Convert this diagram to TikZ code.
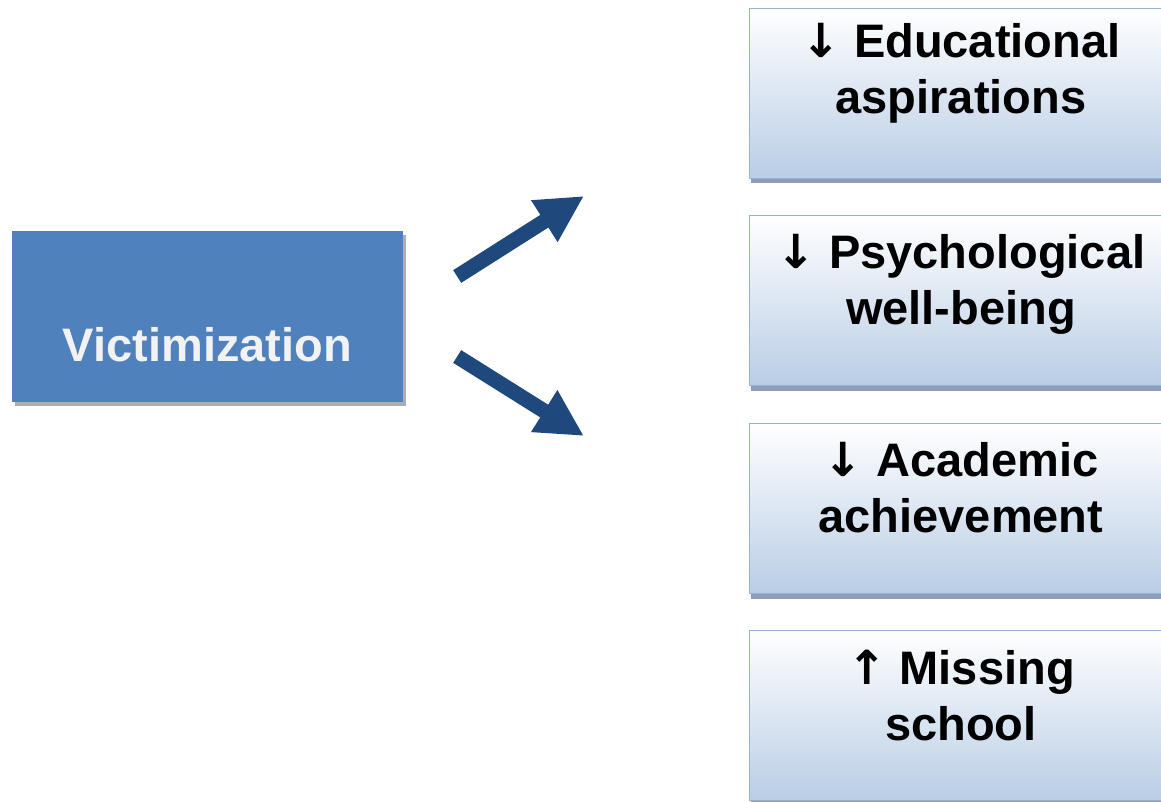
\documentclass[tikz,border=0pt]{standalone}
\usepackage{fontspec}
\setmainfont{Liberation Sans}
\newfontfamily\arrowfont{DejaVu Sans}
\usetikzlibrary{arrows.meta,shadows}

\definecolor{victimblue}{RGB}{79,129,189}
\definecolor{arrowblue}{RGB}{31,73,125}
\definecolor{outcomeedge}{RGB}{149,179,215}
\definecolor{outcomebottom}{RGB}{185,205,229}
\definecolor{outcomeshadow}{RGB}{140,157,181}

\newcommand{\less}{{\arrowfont ↓}}
\newcommand{\more}{{\arrowfont ↑}}

\begin{document}
\begin{tikzpicture}[x=1pt,y=-1pt]
	\tikzstyle{cause}=[rectangle,fill=victimblue,inner sep=0pt,minimum width=391pt,minimum height=171pt,
		drop shadow={shadow xshift=3pt,shadow yshift=-4pt,fill=black!45,opacity=0.7}]
	\tikzstyle{outcome}=[rectangle,draw=outcomeedge,line width=1pt,inner sep=0pt,minimum width=424pt,minimum height=170pt,
		top color=white,bottom color=outcomebottom,
		drop shadow={shadow xshift=2pt,shadow yshift=-5pt,fill=outcomeshadow,opacity=1}]
	\tikzstyle{boxtext}=[inner sep=0pt,align=center,font=\fontsize{47}{56}\selectfont\bfseries]
	\tikzstyle{effect}=[draw=arrowblue,fill=arrowblue,line width=15pt,-{Triangle[width=46pt,length=47pt]}]

	\useasboundingbox (0,0) rectangle (1161,801);

	\begin{scope}

		% the cause on the left
		\node [cause] (vic) at (207.5,316.5) {};
		\node [boxtext,text=black!5,anchor=base] (victxt) at ([yshift=-45pt]vic.center) {Victimization};

		% outcomes on the right, cut off by the page edge
		\node [outcome] (asp) at (961,93) {};
		\node [outcome] (wel) at (961,300.5) {};
		\node [outcome] (ach) at (961,508.5) {};
		\node [outcome] (mis) at (961,715.5) {};

		% anchor=base sits on the last line
		\node [boxtext,anchor=base] (asptxt) at ([yshift=-106pt]asp.north) {\less\ Educational\\aspirations};
		\node [boxtext,anchor=base] (weltxt) at ([yshift=-109pt]wel.north) {\less\ Psychological\\well-being};
		\node [boxtext,anchor=base] (achtxt) at ([yshift=-109pt]ach.north) {\less\ Academic\\achievement};
		\node [boxtext,anchor=base] (mistxt) at ([yshift=-110pt]mis.north) {\more\ Missing\\school};

		% the two block arrows
		\coordinate (upfrom) at ([shift={(54pt,40pt)}]vic.east);
		\coordinate (upto) at (584,196);
		\coordinate (downfrom) at ([shift={(54pt,-40pt)}]vic.east);
		\coordinate (downto) at (584,436);

		\draw[effect] (upfrom) -- (upto);
		\draw[effect] (downfrom) -- (downto);

	\end{scope}
\end{tikzpicture}
\end{document}
